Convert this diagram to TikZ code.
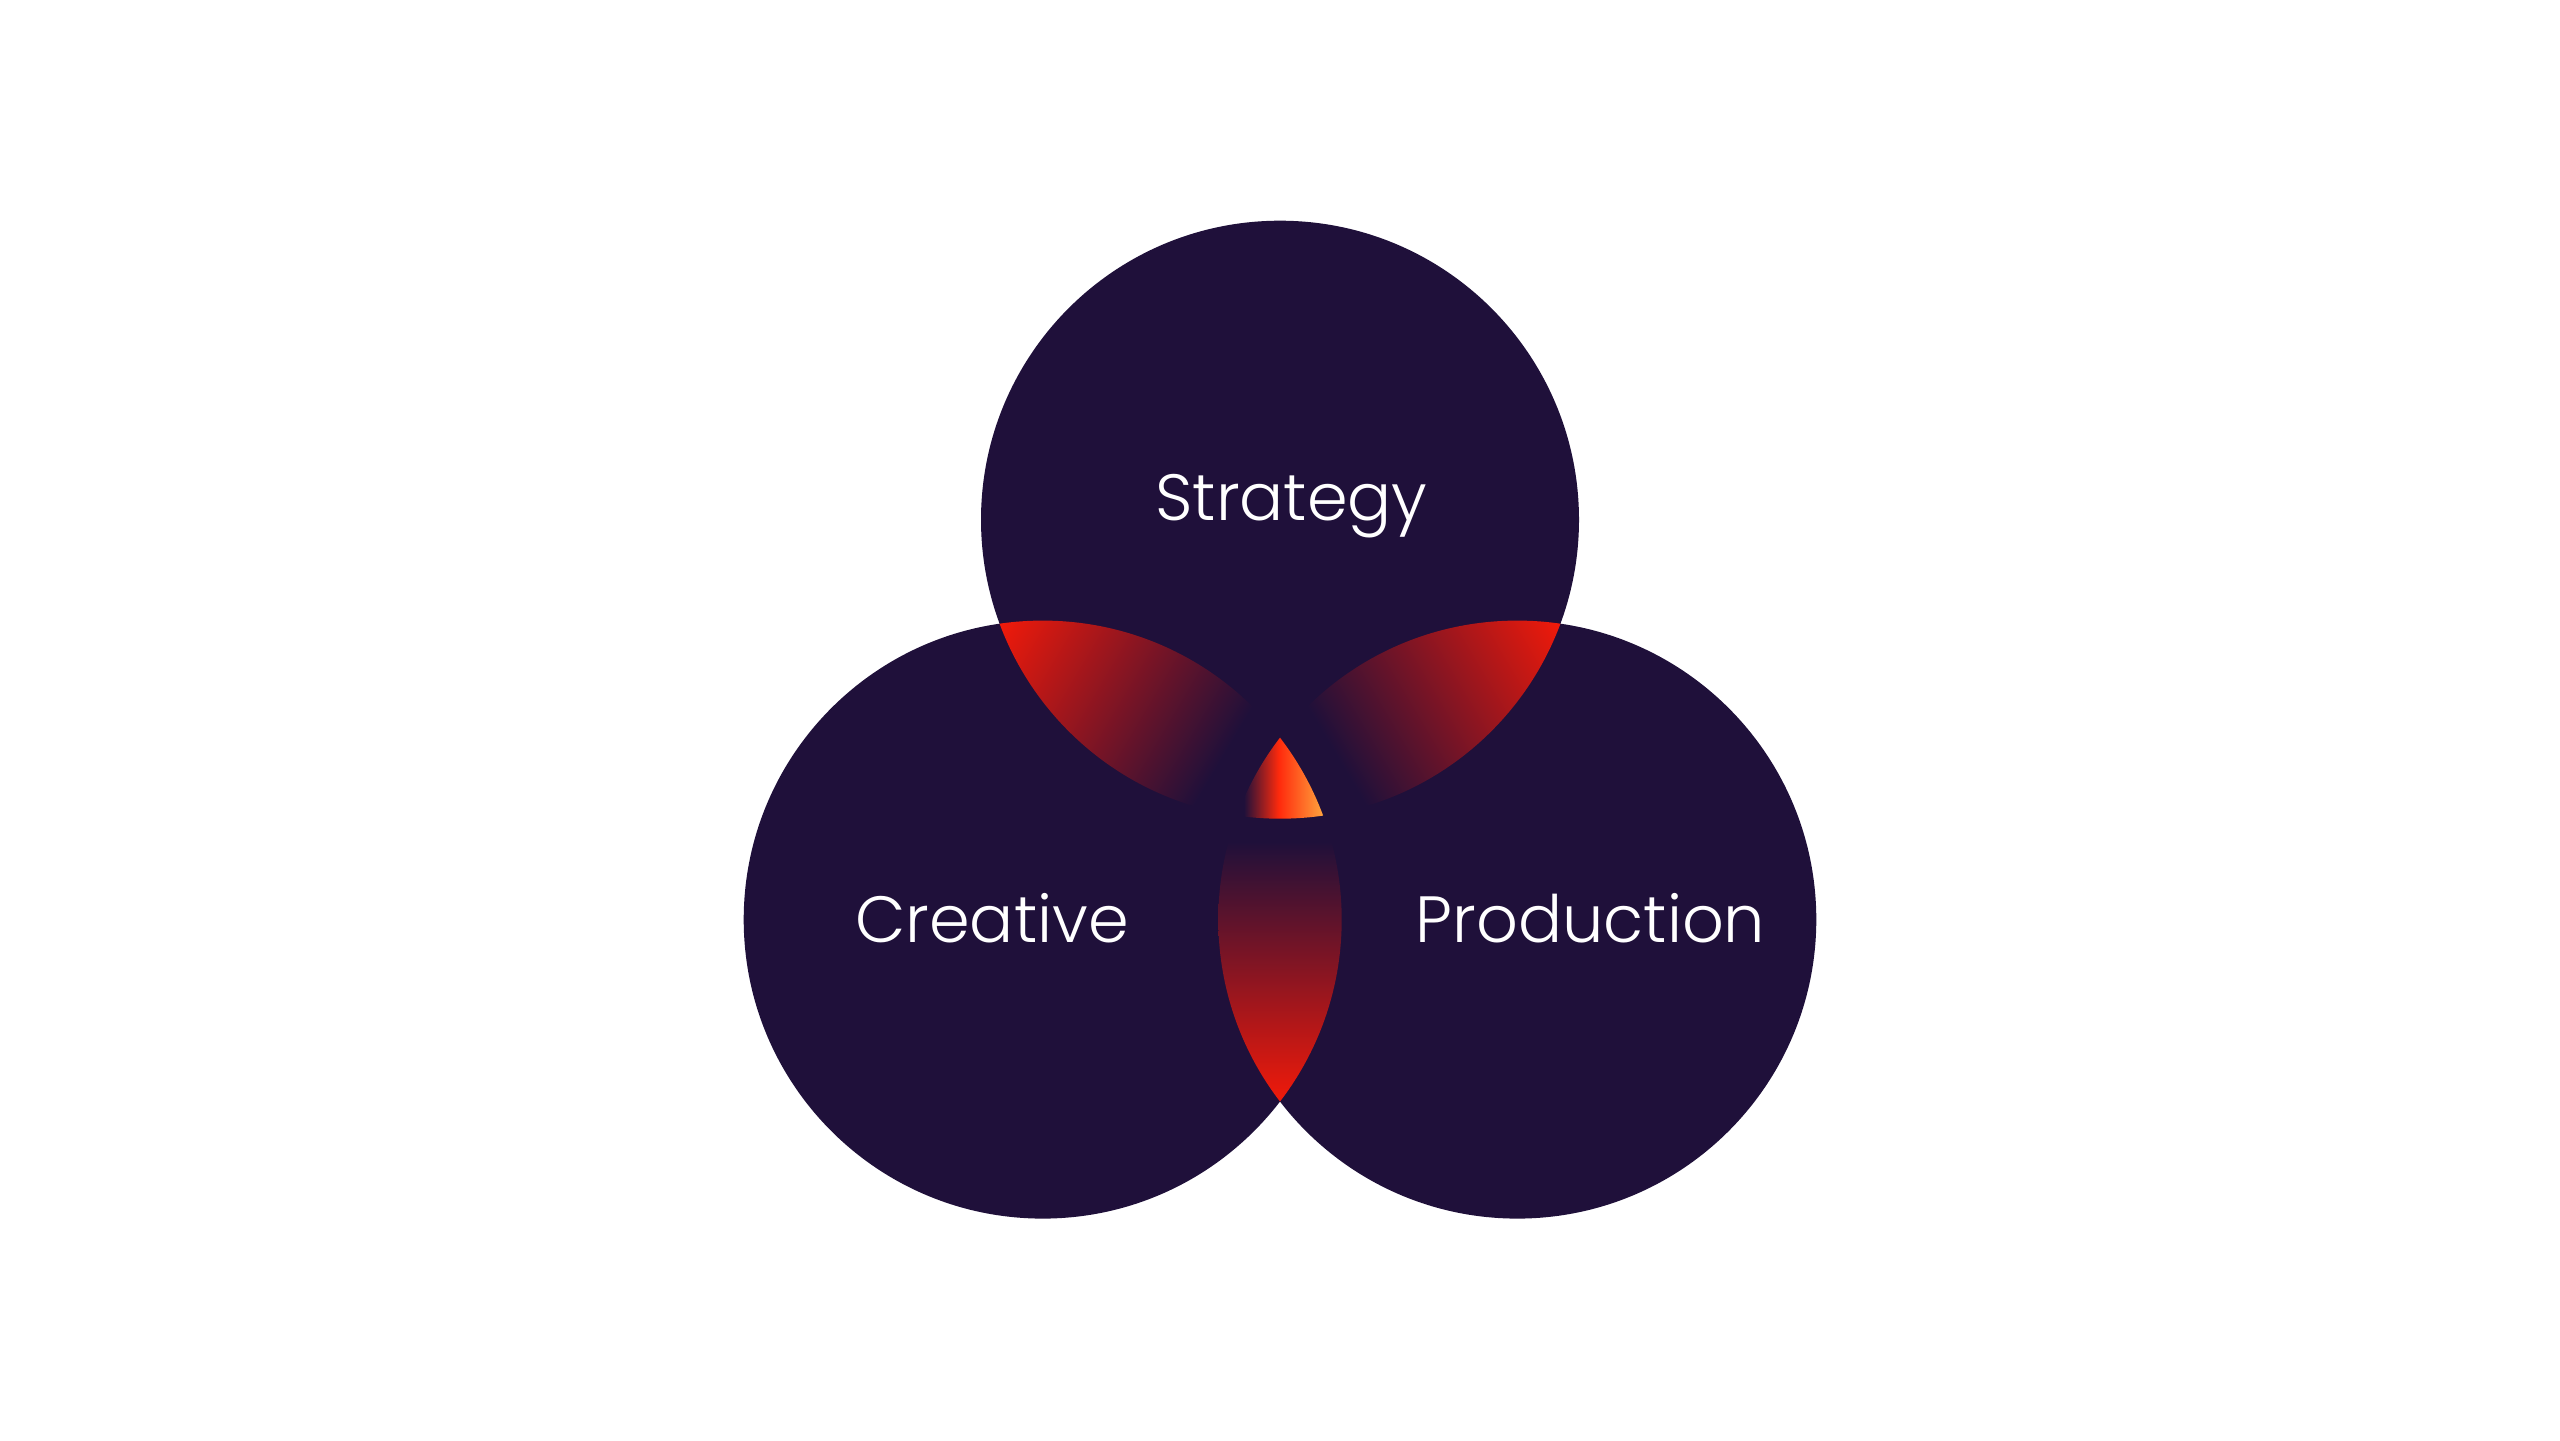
\documentclass[tikz,border=0pt]{standalone}
\usepackage{fontspec}
\setmainfont{Poppins}[UprightFont=* Light]
\definecolor{navy}{HTML}{1F103A}
\definecolor{lensred}{HTML}{F01A0A}
\definecolor{corered}{HTML}{FF2A0C}
\definecolor{coreorange}{HTML}{FFA63E}
\pgfdeclarehorizontalshading{coreglow}{100bp}{color(0bp)=(navy); color(29bp)=(navy); color(49bp)=(corered); color(75bp)=(coreorange); color(100bp)=(coreorange)}
\begin{document}
\begin{tikzpicture}[venntext/.style={text=white, font=\fontsize{18.6}{20}\selectfont, inner sep=0pt, anchor=base}]
	\useasboundingbox (0,0) rectangle (25.6,14.4);
	\fill[white] (0,0) rectangle (25.6,14.4);
	\coordinate (top) at (12.8,9.203);
	\coordinate (left) at (10.427,5.204);
	\coordinate (right) at (15.173,5.204);
	\fill[navy] (top) circle (2.99);
	\fill[navy] (left) circle (2.99);
	\fill[navy] (right) circle (2.99);
	\begin{scope}
		\clip (top) circle (2.99);
		\clip (left) circle (2.99);
		\begin{scope}[transform canvas={shift={(9.997,8.163)}, rotate=-30.68}]
			\shade[left color=lensred, right color=navy] (0,-1) rectangle (2.6,1);
		\end{scope}
	\end{scope}
	\begin{scope}
		\clip (top) circle (2.99);
		\clip (right) circle (2.99);
		\begin{scope}[transform canvas={shift={(15.603,8.163)}, rotate=210.68}]
			\shade[left color=lensred, right color=navy] (0,-1) rectangle (2.6,1);
		\end{scope}
	\end{scope}
	\begin{scope}
		\clip (left) circle (2.99);
		\clip (right) circle (2.99);
		\shade[bottom color=lensred, top color=navy] (11.9,3.385) rectangle (13.7,5.985);
	\end{scope}
	\begin{scope}
		\clip (top) circle (2.99);
		\clip (left) circle (2.99);
		\clip (right) circle (2.99);
		\shade[shading=coreglow] (12.37,6.2) rectangle (13.24,7.1);
	\end{scope}
	\node[venntext] (strategy) at (12.915,9.19) {Strategy};
	\node[venntext] (creative) at (9.92,4.97) {Creative};
	\node[venntext] (production) at (15.905,4.97) {Production};
\end{tikzpicture}
\end{document}
